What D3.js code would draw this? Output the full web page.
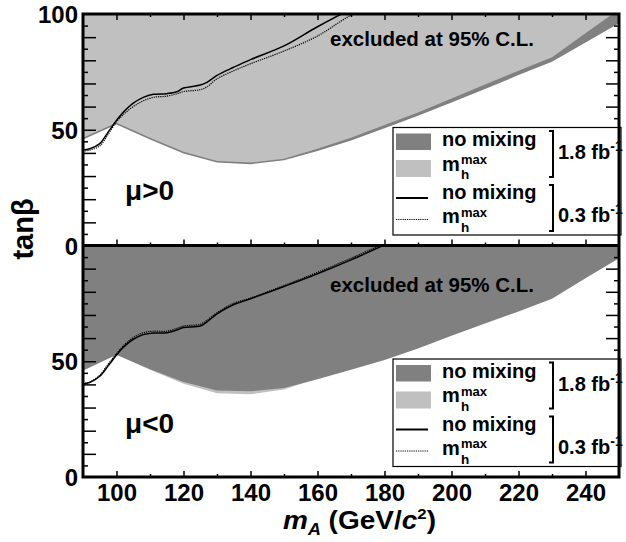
<!DOCTYPE html>
<html>
<head>
<meta charset="utf-8">
<script src="https://cdn.jsdelivr.net/npm/d3@7"></script>
<style>
  body { margin: 0; background: #fff; }
  svg { display: block; }
  text { font-family: "Liberation Sans", Arial, Helvetica, sans-serif; font-weight: bold; fill: #000; }
</style>
</head>
<body>
<svg width="626" height="542"></svg>
<script>
// Data
const boundaryMA = [90, 100, 110, 120, 130, 140, 150, 160, 170, 180, 190, 200, 210, 220, 230, 240, 250];
// mu > 0, 1.8 fb-1 exclusion boundaries (tan beta)
const posMhmax18 = [46.5, 53, 46.5, 40.5, 36.5, 35.8, 37.5, 41.8, 46.5, 52, 57.5, 63.5, 69.5, 75.5, 81.3, 91.7, 102];
const posNomix18 = [45.8, 52.3, 45.8, 39.7, 35.8, 35.1, 36.8, 40.8, 45.4, 50.7, 56, 61.8, 67.6, 73.6, 79.4, 87.7, 96];
// mu < 0, 1.8 fb-1
const negNomix18 = [46, 52.8, 46.5, 41, 37.4, 37, 38.4, 42.2, 46.3, 50.5, 55.5, 61, 66.3, 71.5, 77, 85.8, 94.5];
const negMhmax18 = [46, 52.8, 46.3, 40.3, 36.2, 35.7, 37.8, 42.5, 47, 51.3, 56.3, 61.8, 67, 72.3, 78, 87, 96];

// 0.3 fb-1 curves
const lineMA = [90, 92, 95, 97.5, 100, 102, 105, 108, 111, 115, 118, 120, 125, 127, 130, 135, 140, 150, 160, 170, 180];
const posNomix03 = [41.3, 41.8, 44, 49, 54, 57.5, 61.5, 64, 65.3, 65.6, 66.4, 68, 69.3, 70.5, 73.5, 77, 80.3, 86.2, 94.5, 102, 108];
const posMhmax03 = [40.8, 41.2, 43, 48, 53.5, 56.5, 60, 62.5, 64, 64.5, 65.5, 66.5, 67.3, 68.5, 72, 75.5, 78.5, 84, 90.5, 99.5, 106];
const negNomix03 = [40.2, 40.8, 43.5, 48, 52.7, 56, 59.5, 61.5, 62.2, 62.3, 63.5, 64.6, 65.2, 67, 70.5, 74.5, 77, 82.3, 87.8, 93.8, 100.3];
const negMhmax03 = [40.4, 41, 44, 48.8, 53.3, 56.6, 60.2, 62.3, 63, 63, 64.2, 65.2, 66, 67.7, 71, 75, 77.3, 82.7, 88.4, 94.5, 101];

const xMajor = [100, 120, 140, 160, 180, 200, 220, 240];
const xMinor = [110, 130, 150, 170, 190, 210, 230];
const yMajor = [10, 20, 30, 40, 50, 60, 70, 80, 90];
const yMinor = [5, 15, 25, 35, 45, 55, 65, 75, 85, 95];

const darkGray = '#808080';
const lightGray = '#c0c0c0';

const svg = d3.select('svg');
const left = 83, right = 619;
const panels = [
    { name: 'pos', top: 14, bottom: 245.5, label: 'μ>0', labelY: 200, textY: 46,
      under: { vals: posNomix18, color: darkGray }, over: { vals: posMhmax18, color: lightGray },
      solid: posNomix03, dotted: posMhmax03, yLabels: [0, 50, 100] },
    { name: 'neg', top: 245.5, bottom: 477, label: 'μ<0', labelY: 433, textY: 292,
      under: { vals: negMhmax18, color: lightGray }, over: { vals: negNomix18, color: darkGray },
      solid: negNomix03, dotted: negMhmax03, yLabels: [0, 50] }
];

const x = d3.scaleLinear().domain([90, 250]).range([left, right]);

panels.forEach(p => {
    const y = d3.scaleLinear().domain([0, 100]).range([p.bottom, p.top]);
    const g = svg.append('g');

    g.append('clipPath').attr('id', 'clip-' + p.name)
        .append('rect')
        .attr('x', left).attr('y', p.top)
        .attr('width', right - left).attr('height', p.bottom - p.top);
    const plot = g.append('g').attr('clip-path', `url(#clip-${p.name})`);

    const area = d3.area()
        .x(d => x(d[0]))
        .y0(d => y(d[1]))
        .y1(y(110));
    [p.under, p.over].forEach(r => {
        plot.append('path')
            .datum(boundaryMA.map((m, i) => [m, r.vals[i]]))
            .attr('d', area)
            .attr('fill', r.color);
    });

    const line = d3.line()
        .x(d => x(d[0]))
        .y(d => y(d[1]))
        .curve(d3.curveCatmullRom);
    plot.append('path')
        .datum(lineMA.map((m, i) => [m, p.dotted[i]]))
        .attr('d', line)
        .attr('fill', 'none')
        .attr('stroke', '#000')
        .attr('stroke-width', 1.2)
        .attr('stroke-dasharray', '1.2,1');
    plot.append('path')
        .datum(lineMA.map((m, i) => [m, p.solid[i]]))
        .attr('d', line)
        .attr('fill', 'none')
        .attr('stroke', '#000')
        .attr('stroke-width', 1.5);

    // y ticks, left and right, pointing inside
    const yTicks = (axisFn, xpos, vals, size) => {
        g.append('g')
            .attr('transform', `translate(${xpos},0)`)
            .call(axisFn(y).tickValues(vals).tickSize(size).tickFormat(''))
            .call(a => a.select('.domain').remove())
            .selectAll('line').attr('stroke-width', 1.5);
    };
    yTicks(d3.axisLeft, left, yMajor, -13);
    yTicks(d3.axisLeft, left, yMinor, -5);
    yTicks(d3.axisRight, right, yMajor, -13);
    yTicks(d3.axisRight, right, yMinor, -5);

    // x ticks along panel bottom (up), and along the very top (down)
    const xTicks = (axisFn, ypos, vals, size) => {
        g.append('g')
            .attr('transform', `translate(0,${ypos})`)
            .call(axisFn(x).tickValues(vals).tickSize(size).tickFormat(''))
            .call(a => a.select('.domain').remove())
            .selectAll('line').attr('stroke-width', 1.5);
    };
    xTicks(d3.axisBottom, p.bottom, xMajor, -6);
    xTicks(d3.axisBottom, p.bottom, xMinor, -3);
    if (p.name === 'pos') {
        xTicks(d3.axisTop, p.top, xMajor, -6);
        xTicks(d3.axisTop, p.top, xMinor, -3);
    }

    // y tick labels
    g.append('g')
        .attr('transform', `translate(${left - 3},0)`)
        .call(d3.axisLeft(y).tickValues(p.yLabels).tickSize(0).tickPadding(2))
        .call(a => a.select('.domain').remove())
        .selectAll('text')
        .attr('font-size', 24)
        .attr('dy', '0.36em');

    g.append('text')
        .attr('x', 330).attr('y', p.textY)
        .attr('font-size', 20.5)
        .text('excluded at 95% C.L.');

    g.append('text')
        .attr('x', 125).attr('y', p.labelY)
        .attr('font-size', 28)
        .text(p.label);

    // Legend
    const py = p.top;
    const lg = g.append('g');
    lg.append('rect')
        .attr('x', 393).attr('y', py + 113.5)
        .attr('width', 228).attr('height', 107.5)
        .attr('fill', '#fff').attr('stroke', '#000').attr('stroke-width', 1.2);
    lg.append('rect').attr('x', 396).attr('y', py + 119.5).attr('width', 35).attr('height', 16.5).attr('fill', darkGray);
    lg.append('rect').attr('x', 396).attr('y', py + 146).attr('width', 35).attr('height', 17).attr('fill', lightGray);
    lg.append('line').attr('x1', 396).attr('x2', 428).attr('y1', py + 184).attr('y2', py + 184)
        .attr('stroke', '#000').attr('stroke-width', 2);
    lg.append('line').attr('x1', 396).attr('x2', 428).attr('y1', py + 205.5).attr('y2', py + 205.5)
        .attr('stroke', '#000').attr('stroke-width', 1.2).attr('stroke-dasharray', '1.2,1');

    [[132, 156.7], [185, 209.3]].forEach(([b1, b2], k) => {
        lg.append('text').attr('x', 442).attr('y', py + b1).attr('font-size', 20).text('no mixing');
        lg.append('text').attr('x', 442).attr('y', py + b2).attr('font-size', 20).text('m');
        lg.append('text').attr('x', 461).attr('y', py + b2 - 6.5).attr('font-size', 13).text('max');
        lg.append('text').attr('x', 461).attr('y', py + b2 + 8.7).attr('font-size', 13.5).text('h');
        const t0 = py + (k === 0 ? 117 : 171), t1 = py + (k === 0 ? 163 : 217);
        lg.append('path')
            .attr('d', `M549,${t0} H553 V${t1} H549`)
            .attr('fill', 'none').attr('stroke', '#000').attr('stroke-width', 2);
        const lum = lg.append('text').attr('x', 558).attr('y', py + (k === 0 ? 145 : 208)).attr('font-size', 20);
        lum.append('tspan').text(k === 0 ? '1.8 fb' : '0.3 fb');
        lum.append('tspan').attr('font-size', 14).attr('dy', -8).text('-1');
    });
});

// Frame
svg.append('rect')
    .attr('x', left).attr('y', 14)
    .attr('width', right - left).attr('height', 477 - 14)
    .attr('fill', 'none').attr('stroke', '#000').attr('stroke-width', 3);
svg.append('line')
    .attr('x1', left).attr('x2', right).attr('y1', 245.5).attr('y2', 245.5)
    .attr('stroke', '#000').attr('stroke-width', 3);

// x tick labels
svg.append('g')
    .attr('transform', 'translate(0,477)')
    .call(d3.axisBottom(x).tickValues(xMajor).tickSize(0).tickFormat(d3.format('d')))
    .call(a => a.select('.domain').remove())
    .selectAll('text')
    .attr('font-size', 24)
    .attr('y', 24)
    .attr('dy', 0);

// Axis titles
svg.append('text')
    .attr('transform', 'translate(33,229) rotate(-90)')
    .attr('text-anchor', 'middle')
    .attr('font-size', 29)
    .text('tanβ');

const xt = svg.append('text')
    .attr('transform', 'translate(283,529) scale(1.12,1)')
    .attr('font-size', 25);
xt.append('tspan').attr('font-style', 'italic').text('m');
xt.append('tspan').attr('font-style', 'italic').attr('font-size', 16).attr('dy', 6).text('A');
xt.append('tspan').attr('dy', -6).text(' (GeV/');
xt.append('tspan').attr('font-style', 'italic').text('c');
xt.append('tspan').attr('font-size', 15).attr('dy', -10).text('2');
xt.append('tspan').attr('dy', 10).text(')');
</script>
</body>
</html>
